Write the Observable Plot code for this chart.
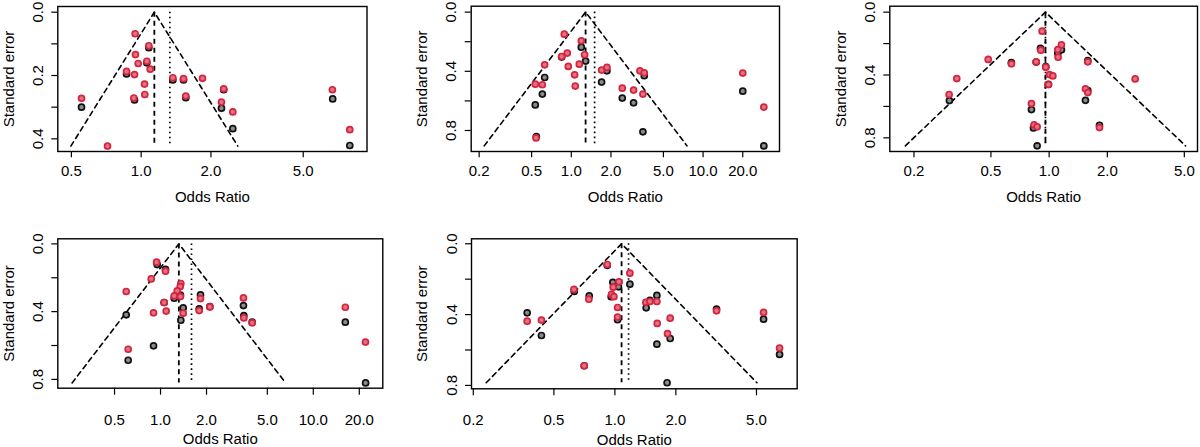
<!DOCTYPE html>
<html>
<head>
<meta charset="utf-8">
<script src="https://cdn.jsdelivr.net/npm/d3@7"></script>
<script src="https://cdn.jsdelivr.net/npm/@observablehq/plot@0.6"></script>
<style>
  body { margin: 0; background: #fff; }
  #chart { position: relative; width: 1200px; height: 447px; overflow: hidden; background: #fff; }
  .cell { position: absolute; }
</style>
</head>
<body>
<div id="chart"></div>
<script>
// ---------- Data (odds ratio, standard error) ----------
// Panel 1
const p1RedOR   = [0.553,0.942,1.079,0.945,0.971,1.058,1.094,0.865,0.936,1.034,0.930,1.037,1.370,1.523,1.839,1.558,2.27,2.22,2.485,0.716,6.68,7.94];
const p1RedSE   = [0.272,0.068,0.106,0.134,0.162,0.155,0.180,0.187,0.197,0.227,0.271,0.260,0.207,0.210,0.209,0.265,0.242,0.284,0.315,0.423,0.245,0.371];
const p1BlackOR = [0.553,0.865,0.936,1.079,1.058,1.370,1.523,1.558,2.27,2.22,2.485,6.70,7.94];
const p1BlackSE = [0.300,0.195,0.277,0.112,0.160,0.214,0.214,0.270,0.245,0.303,0.368,0.274,0.421];
const p1Est = 1.14, p1Adj = 1.33, p1SeMax = 0.423;
const p1TicksX = [0.5, 1, 2, 5];
const p1TicksY = [0, 0.1, 0.2, 0.3, 0.4];
const p1LabelsY = [0, 0.2, 0.4];

// Panel 2
const p2RedOR   = [0.885,1.191,1.262,0.932,0.845,0.949,1.150,0.628,1.060,1.072,0.533,0.603,0.540,1.698,1.864,2.437,2.969,3.317,3.577,3.495,20.0,28.9];
const p2RedSE   = [0.149,0.194,0.288,0.277,0.300,0.367,0.352,0.356,0.424,0.500,0.487,0.491,0.850,0.392,0.374,0.514,0.527,0.397,0.410,0.554,0.412,0.642];
const p2BlackOR = [1.191,1.284,0.628,0.603,0.533,0.845,0.543,1.698,1.864,2.437,2.969,3.577,3.495,20.0,28.9];
const p2BlackSE = [0.237,0.331,0.442,0.554,0.627,0.304,0.841,0.473,0.397,0.581,0.613,0.430,0.809,0.534,0.904];
const p2Est = 1.284, p2Adj = 1.503, p2SeMax = 0.904;
const p2TicksX = [0.2, 0.5, 1, 2, 5, 10, 20];
const p2TicksY = [0, 0.2, 0.4, 0.6, 0.8];
const p2LabelsY = [0, 0.4, 0.8];

// Panel 3
const p3RedOR   = [0.920,1.158,1.109,0.906,1.113,0.484,0.638,0.857,1.585,0.961,1.004,1.045,0.333,0.992,2.785,0.304,1.541,1.585,0.810,0.836,0.867,1.821];
const p3RedSE   = [0.121,0.208,0.238,0.242,0.287,0.301,0.329,0.316,0.316,0.350,0.397,0.406,0.423,0.461,0.425,0.524,0.488,0.512,0.582,0.718,0.730,0.735];
const p3BlackOR = [0.902,0.638,0.857,0.961,1.109,1.158,1.585,0.305,0.810,0.830,1.541,1.585,1.821,0.867,0.992];
const p3BlackSE = [0.231,0.321,0.318,0.346,0.261,0.240,0.308,0.563,0.620,0.737,0.561,0.499,0.720,0.851,0.459];
const p3Est = 0.957, p3Adj = 0.957, p3SeMax = 0.851;
const p3TicksX = [0.2, 0.5, 1, 2, 5];
const p3TicksY = [0, 0.2, 0.4, 0.6, 0.8];
const p3LabelsY = [0, 0.4, 0.8];

// Panel 4
const p4RedOR   = [0.942,1.078,0.869,0.596,1.358,1.345,1.285,1.229,1.350,1.827,1.056,2.103,0.900,1.089,1.407,1.791,3.49,3.51,3.98,16.2,21.96,0.614];
const p4RedSE   = [0.108,0.161,0.207,0.281,0.234,0.252,0.277,0.307,0.311,0.323,0.346,0.372,0.407,0.397,0.409,0.394,0.319,0.437,0.466,0.374,0.580,0.622];
const p4BlackOR = [0.951,1.078,1.229,1.350,1.827,1.056,1.407,1.358,1.791,0.596,0.900,0.614,3.49,3.51,3.98,16.2,22.0,2.103];
const p4BlackSE = [0.122,0.150,0.321,0.303,0.301,0.346,0.378,0.451,0.384,0.419,0.602,0.687,0.364,0.423,0.462,0.462,0.821,0.370];
const p4Est = 1.318, p4Adj = 1.595, p4SeMax = 0.821;
const p4TicksX = [0.5, 1, 2, 5, 10, 20];
const p4TicksY = [0, 0.2, 0.4, 0.6, 0.8];
const p4LabelsY = [0, 0.4, 0.8];

// Panel 5
const p5RedOR   = [0.917,1.186,1.047,0.981,0.963,0.989,0.628,0.744,1.031,1.031,1.422,1.489,1.612,3.175,5.42,0.369,0.434,1.618,1.875,1.819,6.50,0.706];
const p5RedSE   = [0.117,0.166,0.215,0.245,0.286,0.299,0.258,0.313,0.360,0.414,0.331,0.326,0.326,0.379,0.388,0.437,0.431,0.450,0.420,0.508,0.589,0.689];
const p5BlackOR = [0.917,1.186,0.977,1.042,0.959,0.630,0.747,1.031,1.427,1.489,1.612,3.175,5.42,0.369,0.434,1.612,1.875,6.50,1.81,0.706];
const p5BlackSE = [0.122,0.228,0.218,0.243,0.299,0.269,0.294,0.429,0.362,0.320,0.292,0.369,0.426,0.390,0.518,0.567,0.535,0.625,0.785,0.689];
const p5Est = 1.079, p5Adj = 1.168, p5SeMax = 0.785;
const p5TicksX = [0.2, 0.5, 1, 2, 5];
const p5TicksY = [0, 0.2, 0.4, 0.6, 0.8];
const p5LabelsY = [0, 0.4, 0.8];

const xTitle = "Odds Ratio";
const yTitle = "Standard error";

// ---------- Layout ----------
const panels = [
  {redOR:p1RedOR, redSE:p1RedSE, blackOR:p1BlackOR, blackSE:p1BlackSE, est:p1Est, adj:p1Adj, seMax:p1SeMax, ticksX:p1TicksX, ticksY:p1TicksY, labelsY:p1LabelsY,
   xDomain:[0.437, 9.42], yDomain:[-0.018, 0.440], left:0, top:0, ml:57.3, mt:6, fw:309.2, fh:145, mb:74, mr:12, tickX:6.3, padX:7.6, titleDy:50},
  {redOR:p2RedOR, redSE:p2RedSE, blackOR:p2BlackOR, blackSE:p2BlackSE, est:p2Est, adj:p2Adj, seMax:p2SeMax, ticksX:p2TicksX, ticksY:p2TicksY, labelsY:p2LabelsY,
   xDomain:[0.174, 38.0], yDomain:[-0.040, 0.942], left:400, top:0, ml:70.7, mt:5.7, fw:308.3, fh:145.3, mb:74, mr:12, tickX:6.3, padX:7.6, titleDy:50},
  {redOR:p3RedOR, redSE:p3RedSE, blackOR:p3BlackOR, blackSE:p3BlackSE, est:p3Est, adj:p3Adj, seMax:p3SeMax, ticksX:p3TicksX, ticksY:p3TicksY, labelsY:p3LabelsY,
   xDomain:[0.150, 5.85], yDomain:[-0.038, 0.887], left:800, top:0, ml:89.3, mt:5.7, fw:307.7, fh:145.3, mb:74, mr:3, tickX:6.3, padX:7.6, titleDy:50},
  {redOR:p4RedOR, redSE:p4RedSE, blackOR:p4BlackOR, blackSE:p4BlackSE, est:p4Est, adj:p4Adj, seMax:p4SeMax, ticksX:p4TicksX, ticksY:p4TicksY, labelsY:p4LabelsY,
   xDomain:[0.2126, 28.5], yDomain:[-0.030, 0.852], left:0, top:225, ml:57.3, mt:13.3, fw:325, fh:149.4, mb:59.3, mr:12, tickX:7, padX:19, titleDy:56},
  {redOR:p5RedOR, redSE:p5RedSE, blackOR:p5BlackOR, blackSE:p5BlackSE, est:p5Est, adj:p5Adj, seMax:p5SeMax, ticksX:p5TicksX, ticksY:p5TicksY, labelsY:p5LabelsY,
   xDomain:[0.196, 7.94], yDomain:[-0.028, 0.819], left:400, top:225, ml:71, mt:13.3, fw:325.7, fh:150, mb:58.7, mr:12, tickX:7, padX:19, titleDy:56}
];

const FONT = "'Liberation Sans', Arial, Helvetica, sans-serif";
const Z = 1.96;

function makePanel(p) {
  const red = p.redOR.map((v, i) => ({or: v, se: p.redSE[i]}));
  const black = p.blackOR.map((v, i) => ({or: v, se: p.blackSE[i]}));
  const funnel = [
    {or: p.est * Math.exp(-Z * p.seMax), se: p.seMax},
    {or: p.est, se: 0},
    {or: p.est * Math.exp(Z * p.seMax), se: p.seMax}
  ];
  const isLabel = d => p.labelsY.some(v => Math.abs(v - d) < 1e-9);
  return Plot.plot({
    width: p.ml + p.fw + p.mr,
    height: p.mt + p.fh + p.mb,
    marginLeft: p.ml, marginTop: p.mt, marginRight: p.mr, marginBottom: p.mb,
    style: {fontFamily: FONT, fontSize: "15px", color: "#000", background: "transparent", overflow: "visible"},
    x: {type: "log", domain: p.xDomain, label: null},
    y: {domain: p.yDomain, reverse: true, label: null},
    marks: [
      Plot.frame({stroke: "#000", strokeWidth: 1.4}),
      Plot.axisX({ticks: p.ticksX, tickFormat: d => d.toFixed(1), tickSize: p.tickX, tickPadding: p.padX, label: null, strokeWidth: 1.2}),
      Plot.axisY({ticks: p.ticksY, tickFormat: d => isLabel(d) ? d.toFixed(1) : "", tickRotate: -90, tickSize: 6, tickPadding: 9, label: null, strokeWidth: 1.2}),
      Plot.line(funnel, {x: "or", y: "se", stroke: "#000", strokeWidth: 1.6, strokeDasharray: "5,4"}),
      Plot.ruleX([p.est], {y1: 0, y2: p.seMax, stroke: "#000", strokeWidth: 1.8, strokeDasharray: "5,4"}),
      Plot.ruleX([p.adj], {y1: 0, y2: p.seMax, stroke: "#000", strokeWidth: 1.7, strokeDasharray: "1.6,3.4"}),
      Plot.dot(black, {x: "or", y: "se", r: 3, stroke: "#111", fill: "#8c8c8c", strokeWidth: 1.7}),
      Plot.dot(red, {x: "or", y: "se", r: 3, stroke: "#d42440", fill: "#e27282", strokeWidth: 1.7}),
      Plot.text([xTitle], {frameAnchor: "bottom", dy: p.titleDy, fontSize: 15, fill: "#000", textAnchor: "middle"}),
      Plot.text([yTitle], {frameAnchor: "left", dx: -49, rotate: -90, fontSize: 15, fill: "#000", textAnchor: "middle"})
    ]
  });
}

const chart = document.getElementById("chart");
for (const p of panels) {
  const div = document.createElement("div");
  div.className = "cell";
  div.style.left = p.left + "px";
  div.style.top = p.top + "px";
  div.appendChild(makePanel(p));
  chart.appendChild(div);
}
</script>
</body>
</html>
